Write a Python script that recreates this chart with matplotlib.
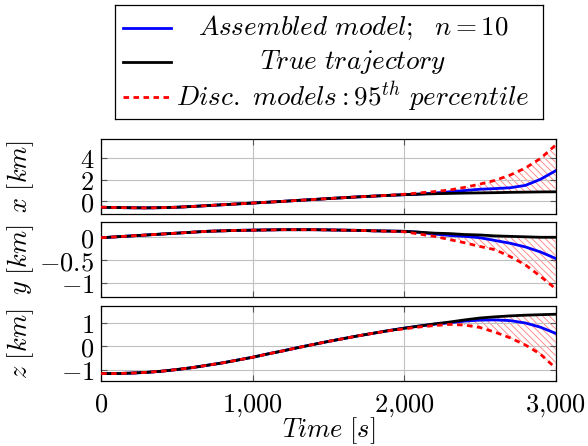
import numpy as np
import matplotlib
matplotlib.use("Agg")
import matplotlib.pyplot as plt
from matplotlib.ticker import FixedLocator, FuncFormatter

plt.rcParams["mathtext.fontset"] = "cm"
plt.rcParams["font.family"] = "serif"
plt.rcParams["font.serif"] = ["DejaVu Serif"]
plt.rcParams["hatch.linewidth"] = 0.6

# --------------------------------------------------
# data (time in s, positions in km)
# --------------------------------------------------
time = np.arange(0, 3001, 100)

x_true = [-0.56, -0.59, -0.61, -0.62, -0.60, -0.56, -0.49, -0.41, -0.33, -0.25,
          -0.17, -0.09, -0.01, 0.08, 0.16, 0.25, 0.33, 0.41, 0.48, 0.55,
          0.61, 0.66, 0.70, 0.73, 0.76, 0.78, 0.80, 0.83, 0.85, 0.87, 0.88]
x_model = [-0.56, -0.59, -0.61, -0.62, -0.60, -0.56, -0.49, -0.41, -0.33, -0.25,
           -0.17, -0.09, -0.01, 0.08, 0.16, 0.25, 0.33, 0.41, 0.48, 0.55,
           0.61, 0.67, 0.76, 0.88, 1.00, 1.12, 1.18, 1.26, 1.48, 2.05, 2.85]
x_perc = [-0.56, -0.59, -0.61, -0.62, -0.60, -0.56, -0.49, -0.41, -0.33, -0.25,
          -0.17, -0.09, -0.01, 0.08, 0.16, 0.25, 0.33, 0.41, 0.48, 0.56,
          0.65, 0.78, 0.90, 1.05, 1.30, 1.60, 1.95, 2.45, 3.10, 4.00, 5.25]

y_true = [-0.01, 0.01, 0.03, 0.05, 0.07, 0.09, 0.11, 0.13, 0.14, 0.15,
          0.155, 0.16, 0.165, 0.165, 0.165, 0.16, 0.155, 0.15, 0.14, 0.135,
          0.13, 0.11, 0.09, 0.08, 0.06, 0.05, 0.03, 0.02, 0.01, 0.0, 0.0]
y_model = [-0.01, 0.01, 0.03, 0.05, 0.07, 0.09, 0.11, 0.13, 0.14, 0.15,
           0.155, 0.16, 0.165, 0.165, 0.165, 0.16, 0.155, 0.15, 0.14, 0.135,
           0.13, 0.11, 0.07, 0.04, 0.02, -0.01, -0.07, -0.13, -0.21, -0.32, -0.46]
y_perc = [-0.01, 0.01, 0.03, 0.05, 0.07, 0.09, 0.11, 0.13, 0.14, 0.15,
          0.155, 0.16, 0.165, 0.165, 0.165, 0.16, 0.155, 0.15, 0.14, 0.13,
          0.12, 0.07, 0.02, -0.05, -0.12, -0.20, -0.27, -0.42, -0.60, -0.85, -1.12]

z_true = [-1.15, -1.15, -1.13, -1.10, -1.05, -0.98, -0.90, -0.80, -0.70, -0.58,
          -0.46, -0.32, -0.19, -0.05, 0.08, 0.21, 0.33, 0.45, 0.56, 0.67,
          0.77, 0.86, 0.95, 1.03, 1.12, 1.20, 1.25, 1.29, 1.32, 1.34, 1.36]
z_model = [-1.15, -1.15, -1.13, -1.10, -1.05, -0.98, -0.90, -0.80, -0.70, -0.58,
           -0.46, -0.32, -0.19, -0.05, 0.08, 0.21, 0.33, 0.45, 0.56, 0.67,
           0.77, 0.86, 0.94, 1.00, 1.07, 1.11, 1.12, 1.09, 0.99, 0.81, 0.55]
z_perc = [-1.15, -1.15, -1.13, -1.10, -1.05, -0.98, -0.90, -0.80, -0.70, -0.58,
          -0.46, -0.32, -0.19, -0.05, 0.08, 0.21, 0.33, 0.45, 0.56, 0.66,
          0.74, 0.82, 0.88, 0.93, 0.90, 0.80, 0.60, 0.36, 0.06, -0.33, -0.92]

panels = [
    (x_true, x_model, x_perc, r"$x\ [km]$", [0, 2, 4], (-1.2, 5.8)),
    (y_true, y_model, y_perc, r"$y\ [km]$", [-1, -0.5, 0], (-1.3, 0.33)),
    (z_true, z_model, z_perc, r"$z\ [km]$", [-1, 0, 1], (-1.46, 1.71)),
]

time_ticks = [0, 1000, 2000, 3000]
legend_labels = [r"$Assembled\ model;\ \ n = 10$",
                 r"$True\ trajectory$",
                 r"$Disc.\ models : 95^{th}\ percentile$"]

FS = 19
FS_LEG = 19.5


def num_fmt(v, pos):
    if float(v).is_integer():
        s = f"{int(v):,}".replace(",", "{,}")
    else:
        s = f"{v:g}"
    return f"${s}$"


fig = plt.figure(figsize=(5.88, 4.46), dpi=100)

bottoms = [0.520, 0.334, 0.146]
for i, (true, model, perc, ylab, yticks, ylim) in enumerate(panels):
    ax = fig.add_axes([0.172, bottoms[i], 0.773, 0.168])
    ax.fill_between(time, true, perc, facecolor="none", edgecolor=(1, 0.4, 0.4, 0.85),
                    hatch="\\\\\\\\\\", linewidth=0)
    ax.plot(time, model, color="blue", lw=2.0, zorder=3)
    ax.plot(time, true, color="black", lw=2.0, zorder=4)
    ax.plot(time, perc, color="red", lw=2.0, ls=(0, (2, 1.6)), zorder=5)
    ax.set_xlim(0, 3000)
    ax.set_ylim(*ylim)
    ax.xaxis.set_major_locator(FixedLocator(time_ticks))
    ax.yaxis.set_major_locator(FixedLocator(yticks))
    ax.yaxis.set_major_formatter(FuncFormatter(num_fmt))
    ax.xaxis.set_major_formatter(FuncFormatter(num_fmt))
    ax.grid(True, color="#c0c0c0", lw=0.8)
    ax.tick_params(direction="in", length=4, width=0.8, color="#555555",
                   top=True, right=True, labelsize=FS)
    ax.tick_params(axis="y", pad=5)
    ax.tick_params(axis="x", pad=8)
    if i < 2:
        ax.tick_params(labelbottom=False)
    for sp in ax.spines.values():
        sp.set_linewidth(0.9)
    ax.set_ylabel(ylab, fontsize=FS)
    ax.yaxis.set_label_coords(-0.143, 0.5)
    if i == 2:
        ax.set_xlabel(r"$Time\ [s]$", fontsize=FS, labelpad=-2)

# legend box drawn as its own axes so the texts can be centred like pgfplots
lax = fig.add_axes([0.1956, 0.7332, 0.728, 0.2556])
lax.set_xlim(0, 1)
lax.set_ylim(0, 1)
lax.set_xticks([])
lax.set_yticks([])
for sp in lax.spines.values():
    sp.set_linewidth(0.9)
row_y = [0.798, 0.5, 0.193]
styles = [dict(color="blue", lw=2.0), dict(color="black", lw=2.0),
          dict(color="red", lw=2.0, ls=(0, (2, 1.6)))]
for yy, lab, st in zip(row_y, legend_labels, styles):
    lax.plot([0.019, 0.131], [yy, yy], **st)
    lax.text(0.556, yy, lab, ha="center", va="center", fontsize=FS_LEG)

fig.savefig("out.png", dpi=100)
